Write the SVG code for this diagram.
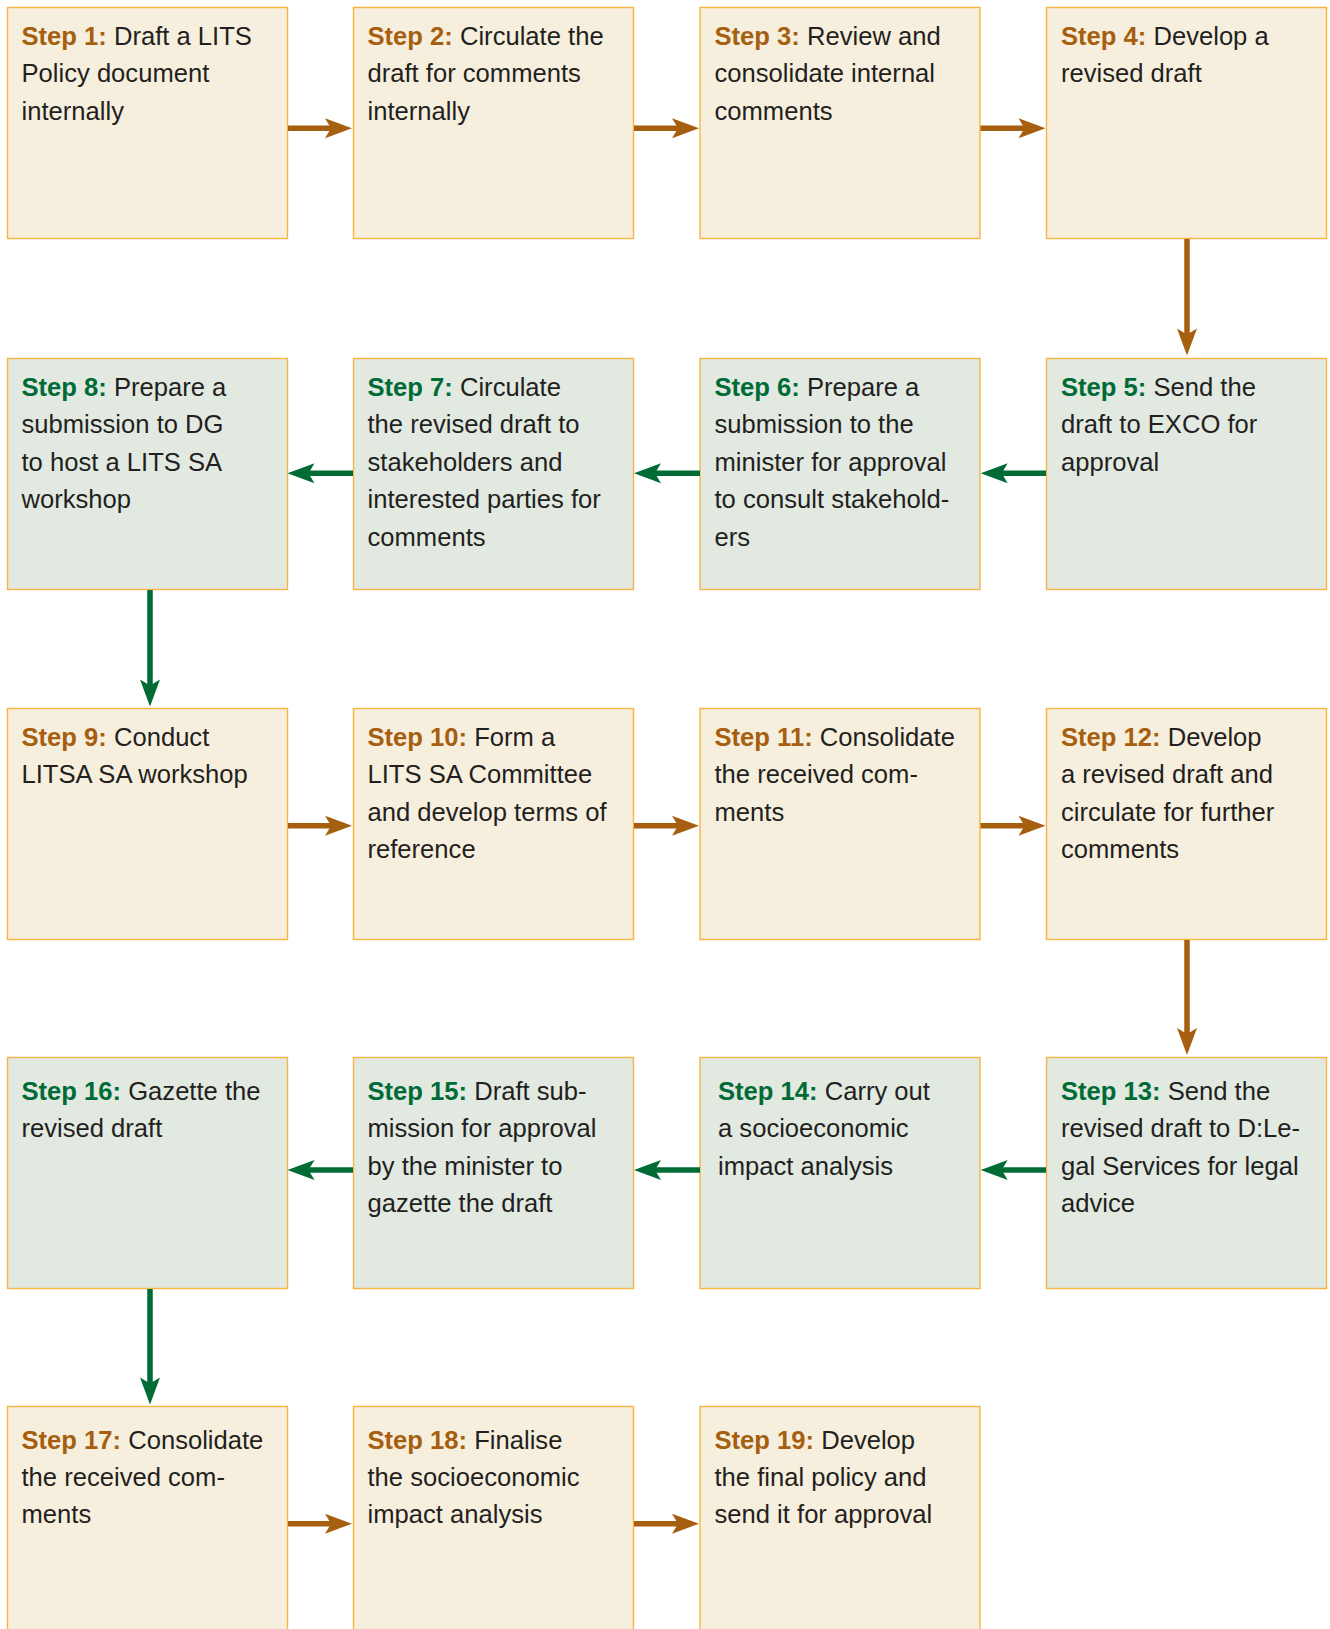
<svg xmlns="http://www.w3.org/2000/svg" xmlns:xlink="http://www.w3.org/1999/xlink" width="1330" height="1629" viewBox="0 0 1330 1629">
<style>
.bx{stroke:#F8B443;stroke-width:1.4}
.cr{fill:#F7EFDE}
.gr{fill:#E1E9E1}
.t{font-family:"Liberation Sans",Arial,Helvetica,sans-serif;font-size:25.6px;fill:#231F20}
.lb{font-weight:bold;fill:#A65E0F}
.lg{font-weight:bold;fill:#006B35}
.sb{stroke:#A65E0F;stroke-width:5.5;fill:none}
.sg{stroke:#006B35;stroke-width:5.5;fill:none}
.hb{fill:#A65E0F}
.hg{fill:#006B35}
</style>
<defs>
<path id="ah" d="M0,0 L-27,-10 L-21,0 L-27,10 Z"/>
</defs>
<rect width="1330" height="1629" fill="#FFFFFF"/>

<g id="step1"><rect class="bx cr" x="7.5" y="7.5" width="280" height="231"/>
<text class="t" x="21.5" y="45"><tspan class="lb">Step 1:</tspan> Draft a LITS<tspan x="21.5" dy="37.4">Policy document</tspan><tspan x="21.5" dy="37.4">internally</tspan></text></g>
<g id="step2"><rect class="bx cr" x="353.5" y="7.5" width="280" height="231"/>
<text class="t" x="367.5" y="45"><tspan class="lb">Step 2:</tspan> Circulate the<tspan x="367.5" dy="37.4">draft for comments</tspan><tspan x="367.5" dy="37.4">internally</tspan></text></g>
<g id="step3"><rect class="bx cr" x="700" y="7.5" width="280" height="231"/>
<text class="t" x="714.5" y="45"><tspan class="lb">Step 3:</tspan> Review and<tspan x="714.5" dy="37.4">consolidate internal</tspan><tspan x="714.5" dy="37.4">comments</tspan></text></g>
<g id="step4"><rect class="bx cr" x="1046.5" y="7.5" width="280" height="231"/>
<text class="t" x="1061" y="45"><tspan class="lb">Step 4:</tspan> Develop a<tspan x="1061" dy="37.4">revised draft</tspan></text></g>

<g id="step5"><rect class="bx gr" x="1046.5" y="358.5" width="280" height="231"/>
<text class="t" x="1061" y="396"><tspan class="lg">Step 5:</tspan> Send the<tspan x="1061" dy="37.4">draft to EXCO for</tspan><tspan x="1061" dy="37.4">approval</tspan></text></g>
<g id="step6"><rect class="bx gr" x="700" y="358.5" width="280" height="231"/>
<text class="t" x="714.5" y="396"><tspan class="lg">Step 6:</tspan> Prepare a<tspan x="714.5" dy="37.4">submission to the</tspan><tspan x="714.5" dy="37.4">minister for approval</tspan><tspan x="714.5" dy="37.4">to consult stakehold-</tspan><tspan x="714.5" dy="37.4">ers</tspan></text></g>
<g id="step7"><rect class="bx gr" x="353.5" y="358.5" width="280" height="231"/>
<text class="t" x="367.5" y="396"><tspan class="lg">Step 7:</tspan> Circulate<tspan x="367.5" dy="37.4">the revised draft to</tspan><tspan x="367.5" dy="37.4">stakeholders and</tspan><tspan x="367.5" dy="37.4">interested parties for</tspan><tspan x="367.5" dy="37.4">comments</tspan></text></g>
<g id="step8"><rect class="bx gr" x="7.5" y="358.5" width="280" height="231"/>
<text class="t" x="21.5" y="396"><tspan class="lg">Step 8:</tspan> Prepare a<tspan x="21.5" dy="37.4">submission to DG</tspan><tspan x="21.5" dy="37.4">to host a LITS SA</tspan><tspan x="21.5" dy="37.4">workshop</tspan></text></g>

<g id="step9"><rect class="bx cr" x="7.5" y="708.5" width="280" height="231"/>
<text class="t" x="21.5" y="746"><tspan class="lb">Step 9:</tspan> Conduct<tspan x="21.5" dy="37.4">LITSA SA workshop</tspan></text></g>
<g id="step10"><rect class="bx cr" x="353.5" y="708.5" width="280" height="231"/>
<text class="t" x="367.5" y="746"><tspan class="lb">Step 10:</tspan> Form a<tspan x="367.5" dy="37.4">LITS SA Committee</tspan><tspan x="367.5" dy="37.4">and develop terms of</tspan><tspan x="367.5" dy="37.4">reference</tspan></text></g>
<g id="step11"><rect class="bx cr" x="700" y="708.5" width="280" height="231"/>
<text class="t" x="714.5" y="746"><tspan class="lb">Step 11:</tspan> Consolidate<tspan x="714.5" dy="37.4">the received com-</tspan><tspan x="714.5" dy="37.4">ments</tspan></text></g>
<g id="step12"><rect class="bx cr" x="1046.5" y="708.5" width="280" height="231"/>
<text class="t" x="1061" y="746"><tspan class="lb">Step 12:</tspan> Develop<tspan x="1061" dy="37.4">a revised draft and</tspan><tspan x="1061" dy="37.4">circulate for further</tspan><tspan x="1061" dy="37.4">comments</tspan></text></g>

<g id="step13"><rect class="bx gr" x="1046.5" y="1057.5" width="280" height="231"/>
<text class="t" x="1061" y="1100"><tspan class="lg">Step 13:</tspan> Send the<tspan x="1061" dy="37.4">revised draft to D:Le-</tspan><tspan x="1061" dy="37.4">gal Services for legal</tspan><tspan x="1061" dy="37.4">advice</tspan></text></g>
<g id="step14"><rect class="bx gr" x="700" y="1057.5" width="280" height="231"/>
<text class="t" x="718" y="1100"><tspan class="lg">Step 14:</tspan> Carry out<tspan x="718" dy="37.4">a socioeconomic</tspan><tspan x="718" dy="37.4">impact analysis</tspan></text></g>
<g id="step15"><rect class="bx gr" x="353.5" y="1057.5" width="280" height="231"/>
<text class="t" x="367.5" y="1100"><tspan class="lg">Step 15:</tspan> Draft sub-<tspan x="367.5" dy="37.4">mission for approval</tspan><tspan x="367.5" dy="37.4">by the minister to</tspan><tspan x="367.5" dy="37.4">gazette the draft</tspan></text></g>
<g id="step16"><rect class="bx gr" x="7.5" y="1057.5" width="280" height="231"/>
<text class="t" x="21.5" y="1100"><tspan class="lg">Step 16:</tspan> Gazette the<tspan x="21.5" dy="37.4">revised draft</tspan></text></g>

<g id="step17"><rect class="bx cr" x="7.5" y="1406.5" width="280" height="240"/>
<text class="t" x="21.5" y="1448.5"><tspan class="lb">Step 17:</tspan> Consolidate<tspan x="21.5" dy="37.4">the received com-</tspan><tspan x="21.5" dy="37.4">ments</tspan></text></g>
<g id="step18"><rect class="bx cr" x="353.5" y="1406.5" width="280" height="240"/>
<text class="t" x="367.5" y="1448.5"><tspan class="lb">Step 18:</tspan> Finalise<tspan x="367.5" dy="37.4">the socioeconomic</tspan><tspan x="367.5" dy="37.4">impact analysis</tspan></text></g>
<g id="step19"><rect class="bx cr" x="700" y="1406.5" width="280" height="240"/>
<text class="t" x="714.5" y="1448.5"><tspan class="lb">Step 19:</tspan> Develop<tspan x="714.5" dy="37.4">the final policy and</tspan><tspan x="714.5" dy="37.4">send it for approval</tspan></text></g>

<g id="connectors">
<!-- row 1 -->
<line class="sb" x1="288" y1="128.3" x2="332" y2="128.3"/><use xlink:href="#ah" class="hb" transform="translate(352,128.3)"/>
<line class="sb" x1="634" y1="128.3" x2="679" y2="128.3"/><use xlink:href="#ah" class="hb" transform="translate(699,128.3)"/>
<line class="sb" x1="980.5" y1="128.3" x2="1025" y2="128.3"/><use xlink:href="#ah" class="hb" transform="translate(1045.5,128.3)"/>
<line class="sb" x1="1187" y1="239" x2="1187" y2="335"/><use xlink:href="#ah" class="hb" transform="translate(1187,355.5) rotate(90)"/>
<!-- row 2 -->
<line class="sg" x1="1046" y1="473.3" x2="1001" y2="473.3"/><use xlink:href="#ah" class="hg" transform="translate(980.7,473.3) rotate(180)"/>
<line class="sg" x1="700" y1="473.3" x2="655" y2="473.3"/><use xlink:href="#ah" class="hg" transform="translate(634,473.3) rotate(180)"/>
<line class="sg" x1="353" y1="473.3" x2="308" y2="473.3"/><use xlink:href="#ah" class="hg" transform="translate(287.5,473.3) rotate(180)"/>
<line class="sg" x1="150" y1="590" x2="150" y2="686"/><use xlink:href="#ah" class="hg" transform="translate(150,706.5) rotate(90)"/>
<!-- row 3 -->
<line class="sb" x1="288" y1="825.7" x2="332" y2="825.7"/><use xlink:href="#ah" class="hb" transform="translate(352,825.7)"/>
<line class="sb" x1="634" y1="825.7" x2="679" y2="825.7"/><use xlink:href="#ah" class="hb" transform="translate(699,825.7)"/>
<line class="sb" x1="980.5" y1="825.7" x2="1025" y2="825.7"/><use xlink:href="#ah" class="hb" transform="translate(1045.5,825.7)"/>
<line class="sb" x1="1187" y1="940" x2="1187" y2="1035"/><use xlink:href="#ah" class="hb" transform="translate(1187,1055)  rotate(90)"/>
<!-- row 4 -->
<line class="sg" x1="1046" y1="1170" x2="1001" y2="1170"/><use xlink:href="#ah" class="hg" transform="translate(980.7,1170) rotate(180)"/>
<line class="sg" x1="700" y1="1170" x2="655" y2="1170"/><use xlink:href="#ah" class="hg" transform="translate(634,1170) rotate(180)"/>
<line class="sg" x1="353" y1="1170" x2="308" y2="1170"/><use xlink:href="#ah" class="hg" transform="translate(287.5,1170) rotate(180)"/>
<line class="sg" x1="150" y1="1289" x2="150" y2="1384"/><use xlink:href="#ah" class="hg" transform="translate(150,1404.5) rotate(90)"/>
<!-- row 5 -->
<line class="sb" x1="288" y1="1523.7" x2="332" y2="1523.7"/><use xlink:href="#ah" class="hb" transform="translate(352,1523.7)"/>
<line class="sb" x1="634" y1="1523.7" x2="679" y2="1523.7"/><use xlink:href="#ah" class="hb" transform="translate(699,1523.7)"/>
</g>
</svg>
